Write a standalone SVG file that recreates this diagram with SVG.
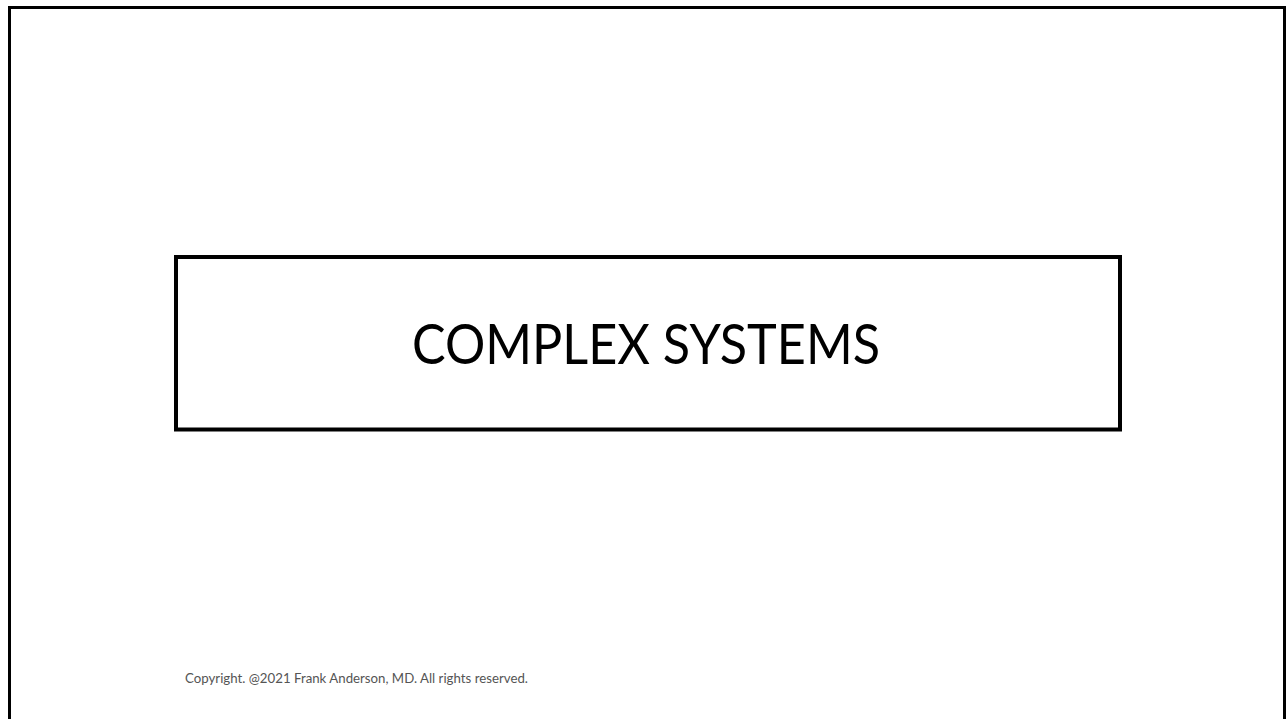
<svg xmlns="http://www.w3.org/2000/svg" width="1286" height="719" viewBox="0 0 1286 719">
<style>
.frame{fill:none;stroke:#000;stroke-width:3}
.box{fill:#fff;stroke:#000;stroke-width:4}
.title{font-family:Lato,"Liberation Sans",sans-serif;font-size:56px;fill:#000}
.copy{font-family:Lato,"Liberation Sans",sans-serif;font-size:12.5px;fill:#555}
</style>
<rect width="1286" height="719" fill="#fff"/>
<rect class="frame" x="9.5" y="7.5" width="1275" height="720"/>
<g id="title-node">
<rect class="box" x="176" y="257" width="944" height="172.5"/>
<text class="title" x="646" y="364" text-anchor="middle" textLength="468" lengthAdjust="spacingAndGlyphs">COMPLEX SYSTEMS</text>
</g>
<g id="connectors"/>
<g id="footer">
<text class="copy" x="185" y="683" textLength="343" lengthAdjust="spacingAndGlyphs">Copyright. @2021 Frank Anderson, MD. All rights reserved.</text>
</g>
</svg>
